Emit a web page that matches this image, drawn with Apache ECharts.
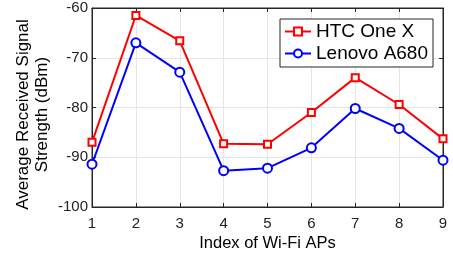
<!DOCTYPE html>
<html><head><meta charset="utf-8">
<script src="https://cdn.jsdelivr.net/npm/echarts@6/dist/echarts.min.js"></script>
<style>html,body{margin:0;padding:0;background:#fff}#c{width:453px;height:257px}</style>
</head><body><div id="c"></div>
<script>
var apIndex = [1,2,3,4,5,6,7,8,9];
var htcOneX = [-87.0,-61.5,-66.6,-87.3,-87.4,-81.0,-74.0,-79.4,-86.3];
var lenovoA680 = [-91.4,-67.0,-72.9,-92.7,-92.2,-88.1,-80.2,-84.2,-90.6];
var yTicks = [-100,-90,-80,-70,-60];

var font = 'Helvetica, Arial, "Liberation Sans", sans-serif';
var chart = echarts.init(document.getElementById('c'));
function pairs(v){return apIndex.map(function(x,i){return [x,v[i]];});}
var axisCol = '#262626';
chart.setOption({
  animation:false,
  grid:{left:92,right:10,top:8,bottom:50,show:true,borderColor:axisCol,borderWidth:1},
  legend:{
    right:20,top:19,orient:'vertical',
    backgroundColor:'#fff',borderColor:axisCol,borderWidth:1,borderRadius:0,
    padding:[3,5,4,4],itemGap:3,itemWidth:26,itemHeight:10,
    textStyle:{fontFamily:font,fontSize:19,color:'#000'},
    data:['HTC One X','Lenovo A680']
  },
  xAxis:[{
    type:'value',min:1,max:9,interval:1,
    name:'Index of Wi-Fi APs',nameLocation:'middle',nameGap:28,nameMoveOverlap:false,
    nameTextStyle:{fontFamily:font,fontSize:16.5,color:'#000'},
    axisLine:{show:true,lineStyle:{color:axisCol}},
    axisTick:{show:true,inside:true,length:4,lineStyle:{color:axisCol}},
    axisLabel:{fontFamily:font,fontSize:15,color:'#222',margin:9},
    splitLine:{show:true,lineStyle:{color:'#e6e6e6'}}
  },{
    type:'value',min:1,max:9,interval:1,position:'top',
    axisLine:{show:true,lineStyle:{color:axisCol}},
    axisTick:{show:true,inside:true,length:4,lineStyle:{color:axisCol}},
    axisLabel:{show:false},splitLine:{show:false}
  }],
  yAxis:[{
    type:'value',min:yTicks[0],max:yTicks[yTicks.length-1],interval:10,
    name:'Average Received Signal\nStrength (dBm)',nameLocation:'middle',nameGap:40,nameMoveOverlap:false,
    nameTextStyle:{fontFamily:font,fontSize:17,color:'#000',lineHeight:19,padding:[0,14,0,0]},
    axisLine:{show:true,lineStyle:{color:axisCol}},
    axisTick:{show:true,inside:true,length:4,lineStyle:{color:axisCol}},
    axisLabel:{fontFamily:font,fontSize:15,color:'#222',margin:4},
    splitLine:{show:true,lineStyle:{color:'#e6e6e6'}}
  },{
    type:'value',min:yTicks[0],max:yTicks[yTicks.length-1],interval:10,position:'right',
    axisLine:{show:true,lineStyle:{color:axisCol}},
    axisTick:{show:true,inside:true,length:4,lineStyle:{color:axisCol}},
    axisLabel:{show:false},splitLine:{show:false}
  }],
  series:[{
    name:'HTC One X',type:'line',data:pairs(htcOneX),
    symbol:'emptyRect',symbolSize:7,showAllSymbol:true,
    lineStyle:{color:'#ff0000',width:2},
    itemStyle:{color:'#ff0000',borderColor:'#ff0000',borderWidth:1.5}
  },{
    name:'Lenovo A680',type:'line',data:pairs(lenovoA680),
    symbol:'emptyCircle',symbolSize:9,showAllSymbol:true,
    lineStyle:{color:'#0000ff',width:2},
    itemStyle:{color:'#0000ff',borderColor:'#0000ff',borderWidth:2}
  }]
});
</script></body></html>
